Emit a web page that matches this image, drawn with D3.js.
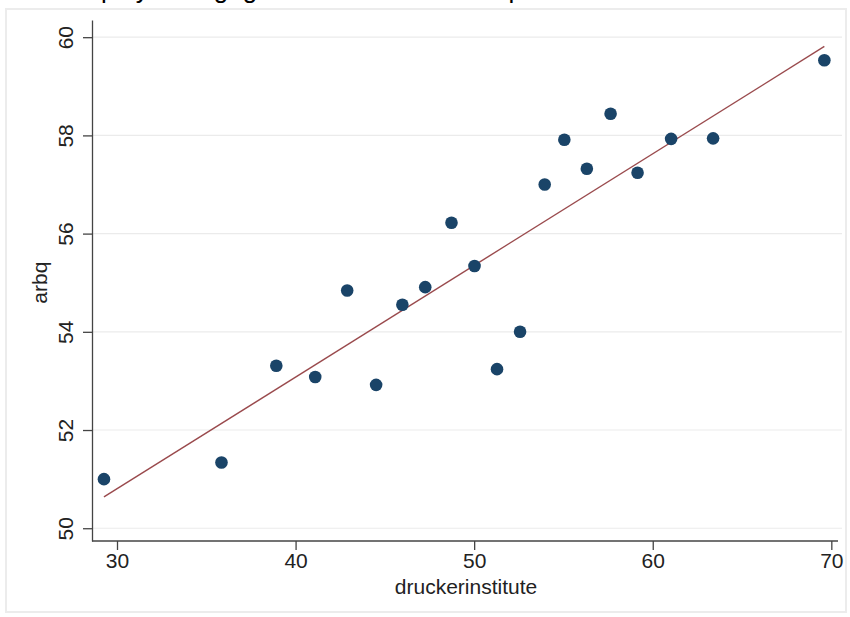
<!DOCTYPE html>
<html>
<head>
<meta charset="utf-8">
<script src="https://cdn.jsdelivr.net/npm/d3@7"></script>
<style>
  body { margin: 0; background: #fff; }
  text { font-family: "Liberation Sans", Arial, sans-serif; }
</style>
</head>
<body>
<div id="chart"></div>
<script>
// druckerinstitute score (x) and arbq (y)
var drucker = [29.27, 35.85, 38.92, 41.10, 42.89, 44.51, 45.98, 47.26, 48.73, 50.02,
               51.28, 52.57, 53.95, 55.05, 56.31, 57.64, 59.15, 61.03, 63.38, 69.61];
var arbq    = [51.00, 51.34, 53.31, 53.08, 54.84, 52.92, 54.55, 54.91, 56.22, 55.34,
               53.24, 54.00, 57.00, 57.91, 57.32, 58.44, 57.24, 57.93, 57.94, 59.53];
var xTicks = [30, 40, 50, 60, 70];
var yTicks = [50, 52, 54, 56, 58, 60];

var W = 850, H = 617;
var margin = {left: 92, right: 12, top: 20, bottom: 76};

var svg = d3.select("#chart").append("svg")
  .attr("width", W)
  .attr("height", H);

// graph region frame
svg.append("rect")
  .attr("x", 6).attr("y", 9)
  .attr("width", 840).attr("height", 603)
  .attr("fill", "#fff")
  .attr("stroke", "#ececec")
  .attr("stroke-width", 2);

// title, cropped at the top edge of the picture (only descenders show)
svg.append("text")
  .text("Employee engagement score and firm performance")
  .attr("x", 62).attr("y", -2)
  .attr("font-size", "26px")
  .attr("fill", "#000");

var x = d3.scaleLinear().domain([28.6, 70.15]).range([margin.left, W - margin.right - 4]);
var y = d3.scaleLinear().domain([49.74, 60.35]).range([H - margin.bottom, margin.top]);

// gridlines
svg.append("g").selectAll("line")
  .data(yTicks)
  .enter().append("line")
    .attr("x1", margin.left).attr("x2", 842)
    .attr("y1", function(d) { return y(d); })
    .attr("y2", function(d) { return y(d); })
    .attr("stroke", "#ebebeb")
    .attr("stroke-width", 1.2);

// axes
var xAxis = svg.append("g")
  .attr("transform", "translate(0," + (H - margin.bottom) + ")")
  .call(d3.axisBottom(x).tickValues(xTicks).tickSize(9).tickPadding(3).tickSizeOuter(0));
var yAxis = svg.append("g")
  .attr("transform", "translate(" + margin.left + ",0)")
  .call(d3.axisLeft(y).tickValues(yTicks).tickSize(9).tickPadding(4).tickSizeOuter(0));

[xAxis, yAxis].forEach(function(a) {
  a.select(".domain").attr("stroke", "#444").attr("stroke-width", 1.3);
  a.selectAll(".tick line").attr("stroke", "#444").attr("stroke-width", 1.3);
  a.selectAll(".tick text").attr("font-size", "21px").attr("fill", "#222")
    .attr("font-family", "Liberation Sans, Arial, sans-serif");
});
xAxis.select(".domain").attr("d", "M" + margin.left + ",0H838");
yAxis.selectAll(".tick text")
  .attr("text-anchor", "middle")
  .attr("x", 0).attr("dy", 0)
  .attr("transform", "translate(-19,0) rotate(-90)");

// axis titles
svg.append("text")
  .text("druckerinstitute")
  .attr("x", 466).attr("y", 594)
  .attr("text-anchor", "middle")
  .attr("font-size", "21px")
  .attr("fill", "#222");
svg.append("text")
  .text("arbq")
  .attr("transform", "translate(47," + y(55) + ") rotate(-90)")
  .attr("text-anchor", "middle")
  .attr("font-size", "21px")
  .attr("fill", "#222");

// linear fit
var mx = d3.mean(drucker), my = d3.mean(arbq);
var sxy = d3.sum(drucker, function(d, i) { return (d - mx) * (arbq[i] - my); });
var sxx = d3.sum(drucker, function(d) { return (d - mx) * (d - mx); });
var slope = sxy / sxx, icpt = my - slope * mx;
var ext = d3.extent(drucker);

svg.append("line")
  .attr("x1", x(ext[0])).attr("y1", y(icpt + slope * ext[0]))
  .attr("x2", x(ext[1])).attr("y2", y(icpt + slope * ext[1]))
  .attr("stroke", "#9a4a4d")
  .attr("stroke-width", 1.4);

// points
svg.append("g").selectAll("circle")
  .data(drucker)
  .enter().append("circle")
    .attr("cx", function(d) { return x(d); })
    .attr("cy", function(d, i) { return y(arbq[i]); })
    .attr("r", 6.3)
    .attr("fill", "#1a4468");
</script>
</body>
</html>
